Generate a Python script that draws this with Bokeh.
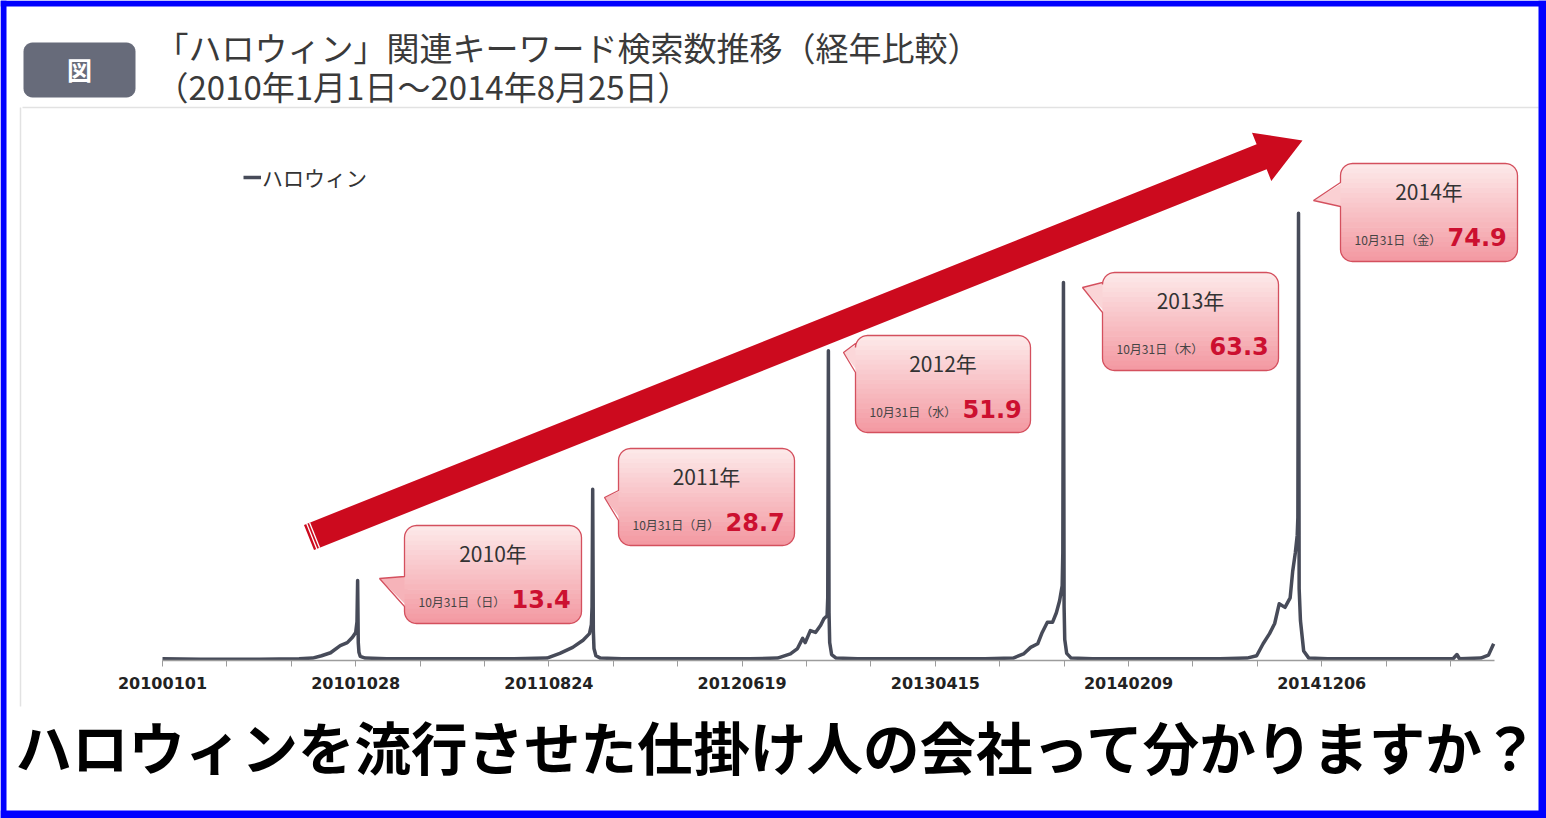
import numpy as np
import pandas as pd
from bokeh.plotting import figure
from bokeh.models import Range1d, FixedTicker, Legend, LegendItem, DatetimeTickFormatter
from bokeh.embed import file_html
from bokeh.resources import INLINE
from bokeh.core.properties import value

# ---------------- data ----------------
series_name = "ハロウィン"
title_line1 = "「ハロウィン」関連キーワード検索数推移（経年比較）"
title_line2 = "（2010年1月1日～2014年8月25日）"
caption = "ハロウィンを流行させた仕掛け人の会社って分かりますか？"

dates_2010 = ["2010-01-01", "2010-03-01", "2010-06-01", "2010-08-01", "2010-08-22", "2010-09-05",
              "2010-09-19", "2010-10-04", "2010-10-15", "2010-10-23", "2010-10-28", "2010-10-30",
              "2010-10-31", "2010-11-01", "2010-11-02", "2010-11-04", "2010-11-12", "2010-12-15"]
values_2010 = [0.3, 0.2, 0.2, 0.3, 0.4, 0.8, 1.3, 2.5, 3.0, 3.9, 4.7, 6.5, 13.4, 3.0, 1.4, 0.7, 0.4, 0.3]

dates_2011 = ["2011-01-15", "2011-04-01", "2011-07-01", "2011-08-21", "2011-09-10", "2011-09-30",
              "2011-10-16", "2011-10-26", "2011-10-29", "2011-10-30", "2011-10-31", "2011-11-01",
              "2011-11-02", "2011-11-05", "2011-11-12", "2011-12-15"]
values_2011 = [0.3, 0.3, 0.3, 0.4, 1.2, 2.2, 3.4, 4.5, 6.0, 9.0, 28.7, 5.0, 2.0, 0.8, 0.4, 0.3]

dates_2012 = ["2012-01-15", "2012-04-01", "2012-07-01", "2012-08-13", "2012-09-02", "2012-09-13",
              "2012-09-21", "2012-09-25", "2012-10-03", "2012-10-11", "2012-10-19", "2012-10-24",
              "2012-10-29", "2012-10-30", "2012-10-31", "2012-11-01", "2012-11-02", "2012-11-05",
              "2012-11-12", "2012-12-15"]
values_2012 = [0.3, 0.3, 0.3, 0.4, 1.1, 2.0, 3.7, 3.0, 5.0, 4.7, 5.9, 7.0, 7.5, 10.5, 51.9, 8.0,
               3.0, 1.0, 0.4, 0.3]

dates_2013 = ["2013-01-15", "2013-04-01", "2013-07-01", "2013-08-14", "2013-08-30", "2013-09-10",
              "2013-09-21", "2013-09-28", "2013-10-06", "2013-10-14", "2013-10-20", "2013-10-25",
              "2013-10-29", "2013-10-30", "2013-10-31", "2013-11-01", "2013-11-02", "2013-11-05",
              "2013-11-12", "2013-12-15"]
values_2013 = [0.3, 0.3, 0.3, 0.4, 1.1, 2.2, 2.8, 4.7, 6.4, 6.4, 8.0, 10.0, 12.5, 18.0, 63.3, 9.0,
               3.5, 1.2, 0.4, 0.3]

dates_2014 = ["2014-01-15", "2014-04-01", "2014-07-01", "2014-08-12", "2014-08-27", "2014-09-06",
              "2014-09-16", "2014-09-24", "2014-10-01", "2014-10-10", "2014-10-18", "2014-10-22",
              "2014-10-26", "2014-10-29", "2014-10-30", "2014-10-31", "2014-11-01", "2014-11-03",
              "2014-11-08", "2014-11-16", "2014-12-15"]
values_2014 = [0.3, 0.3, 0.3, 0.4, 0.8, 2.8, 4.5, 6.2, 9.5, 8.9, 10.5, 15.0, 18.0, 21.0, 24.0, 74.9,
               12.0, 6.7, 1.6, 0.4, 0.3]

dates_2015 = ["2015-02-01", "2015-04-01", "2015-06-28", "2015-07-04", "2015-07-08", "2015-08-10",
              "2015-08-22", "2015-08-30"]
values_2015 = [0.3, 0.3, 0.3, 1.0, 0.3, 0.4, 0.9, 2.8]

tick_labels = ["20100101", "20101028", "20110824", "20120619", "20130415", "20140209", "20141206"]

callout_years = ["2010年", "2011年", "2012年", "2013年", "2014年"]
callout_weekdays = ["日", "月", "水", "木", "金"]
peak_values = [13.4, 28.7, 51.9, 63.3, 74.9]

# ---------------- helpers (layout) ----------------
def ms(d):
    return (pd.Timestamp(d) - pd.Timestamp("1970-01-01")).total_seconds() * 1000.0

DAY_MS = 86400000.0
X0_PX, PX_PER_DAY = 162.0, 0.644
Y0_PX, PX_PER_UNIT = 660.0, 5.97
W, H = 1546, 818
ORIGIN = ms(tick_labels[0])

def fx(px):
    return ORIGIN + (px - X0_PX) / PX_PER_DAY * DAY_MS

def fy(py):
    return (Y0_PX - py) / PX_PER_UNIT

JP = value("Noto Sans CJK JP")

p = figure(width=W, height=H, x_axis_type="datetime", y_axis_location=None,
           x_range=Range1d(fx(0), fx(W)), y_range=Range1d(fy(H), fy(0)),
           output_backend="svg", toolbar_location=None, min_border=0)
p.outline_line_color = None
p.grid.visible = False
p.background_fill_color = "white"
p.border_fill_color = "white"

# ---------------- frame decorations ----------------
p.segment(x0=[fx(22), fx(20)], y0=[fy(107), fy(107)], x1=[fx(1538), fx(20)], y1=[fy(107), fy(706)],
          line_color="#e2e2e2", line_width=1.5)

def rounded_rect(x0, y0, x1, y1, r, n=8):
    pts = []
    corners = [(x1 - r, y0 + r, -90, 0), (x1 - r, y1 - r, 0, 90),
               (x0 + r, y1 - r, 90, 180), (x0 + r, y0 + r, 180, 270)]
    for cx, cy, a0, a1 in corners:
        for a in np.linspace(np.radians(a0), np.radians(a1), n):
            pts.append((cx + r * np.cos(a), cy + r * np.sin(a)))
    return pts

badge = rounded_rect(23, 42, 135, 97, 9)
p.patch([fx(a) for a, b in badge], [fy(b) for a, b in badge], fill_color="#676b7a", line_color=None)
p.text(x=[fx(79)], y=[fy(68)], text=["図"], text_font=JP, text_font_size="25px", text_font_style="bold",
       text_color="white", text_align="center", text_baseline="middle")

p.text(x=[fx(155), fx(155)], y=[fy(46), fy(85)], text=[title_line1, title_line2], text_font=JP,
       text_font_size="33px", text_color="#3a3a3a", text_align="left", text_baseline="middle")

# ---------------- red arrow ----------------
T = np.array([308.5, 537.0])
P = np.array([1302.0, 140.0])
u = (P - T) / np.linalg.norm(P - T)
n = np.array([-u[1], u[0]])
if n[1] < 0:
    n = -n
sw, hl, hw = 13.5, 44.0, 26.0
Hb = P - u * hl
arrow = [T - n * sw, Hb - n * sw, Hb - n * hw, P, Hb + n * hw, Hb + n * sw, T + n * sw]
p.patch([fx(a[0]) for a in arrow], [fy(a[1]) for a in arrow], fill_color="#cc0a1e", line_color=None)
stripes_x0, stripes_y0, stripes_x1, stripes_y1 = [], [], [], []
for off in (3.0, 6.0):
    a = T + u * off - n * sw
    b = T + u * off + n * sw
    stripes_x0.append(fx(a[0])); stripes_y0.append(fy(a[1]))
    stripes_x1.append(fx(b[0])); stripes_y1.append(fy(b[1]))
p.segment(x0=stripes_x0, y0=stripes_y0, x1=stripes_x1, y1=stripes_y1, line_color="white", line_width=1.3)

# ---------------- the series ----------------
all_dates = dates_2010 + dates_2011 + dates_2012 + dates_2013 + dates_2014 + dates_2015
all_values = values_2010 + values_2011 + values_2012 + values_2013 + values_2014 + values_2015
line = p.line(x=pd.to_datetime(all_dates), y=all_values, line_color="#474b59", line_width=3.5,
              line_join="round")

ax = p.xaxis[0]
ax.fixed_location = 0
tick_ms = [ms(pd.Timestamp(t)) for t in tick_labels]
minor_ms = [ORIGIN + k * 100 * DAY_MS for k in range(1, 21) if k % 3 != 0]
ax.ticker = FixedTicker(ticks=tick_ms, minor_ticks=minor_ms)
fmt = "%Y%m%d"
ax.formatter = DatetimeTickFormatter(microseconds=fmt, milliseconds=fmt, seconds=fmt, minsec=fmt,
                                     minutes=fmt, hourmin=fmt, hours=fmt, days=fmt, months=fmt,
                                     years=fmt)
ax.bounds = (fx(162), fx(1494))
ax.axis_line_color = "#9c9c9c"
ax.axis_line_width = 1.5
ax.major_tick_line_color = "#9c9c9c"
ax.minor_tick_line_color = "#9c9c9c"
ax.major_tick_in = 0
ax.major_tick_out = 6
ax.minor_tick_in = 0
ax.minor_tick_out = 6
ax.major_label_text_font = "DejaVu Sans"
ax.major_label_text_font_style = "bold"
ax.major_label_text_font_size = "16px"
ax.major_label_text_color = "#222222"
ax.major_label_standoff = 10

legend = Legend(items=[LegendItem(label=series_name, renderers=[line])], location=(243, 626),
                padding=0, margin=0, spacing=0, glyph_width=18, glyph_height=20, label_standoff=1,
                label_text_font="Noto Sans CJK JP", label_text_font_size="21px",
                label_text_color="#333333", border_line_color=None, background_fill_alpha=0)
p.add_layout(legend)

# ---------------- callouts ----------------
boxes = [(404, 525, 581, 623), (618, 448, 794, 545), (855, 335, 1030, 432),
         (1102, 272, 1278, 370), (1340, 163, 1517, 261)]
tips = [(379, 578), (604, 497), (843, 352), (1082, 287), (1313, 200)]
wedges = [(576, 606), (490, 520), (343, 372), (282, 312), (182, 206)]

top_rgb = np.array([253, 234, 234])
bot_rgb = np.array([243, 152, 161])

def col(t):
    c = top_rgb + (bot_rgb - top_rgb) * t
    return "#%02x%02x%02x" % tuple(int(round(v)) for v in c)

def edge_x(y, x0, y0, x1, y1, r):
    if y < y0 + r:
        d = r - np.sqrt(max(r * r - (y0 + r - y) ** 2, 0))
    elif y > y1 - r:
        d = r - np.sqrt(max(r * r - (y - (y1 - r)) ** 2, 0))
    else:
        d = 0.0
    return x0 + d, x1 - d

R = 12
for (x0, y0, x1, y1), (tx, ty), (w0, w1), yr, wd, pv in zip(boxes, tips, wedges, callout_years,
                                                             callout_weekdays, peak_values):
    hgt = y1 - y0
    tm = ((w0 + w1) / 2 - y0) / hgt
    p.patch([fx(x0 + 3), fx(tx), fx(x0 + 3)], [fy(w0), fy(ty), fy(w1)], fill_color=col(tm), line_color=None)
    xs, ys, cs = [], [], []
    N = 20
    edges = np.linspace(y0, y1, N + 1)
    for i in range(N):
        ya, yb = edges[i], min(edges[i + 1] + 0.6, y1)
        samples = np.linspace(ya, yb, 5)
        left = [edge_x(y, x0, y0, x1, y1, R)[0] for y in samples]
        right = [edge_x(y, x0, y0, x1, y1, R)[1] for y in samples]
        px_ = left + right[::-1]
        py_ = list(samples) + list(samples[::-1])
        xs.append([fx(v) for v in px_])
        ys.append([fy(v) for v in py_])
        cs.append(col((i + 0.5) / N))
    p.patches(xs, ys, fill_color=cs, line_color=None)
    rr = rounded_rect(x0, y0, x1, y1, R)
    n_per = 8
    outline = rr[:3 * n_per] + [(x0, w1), (tx, ty), (x0, w0)] + rr[3 * n_per:]
    outline.append(outline[0])
    p.line([fx(a) for a, b in outline], [fy(b) for a, b in outline], line_color="#d4505e", line_width=1.3)
    p.text(x=[fx((x0 + x1) / 2)], y=[fy(y0 + 27)], text=[yr], text_font=JP, text_font_size="21px",
           text_color="#333333", text_align="center", text_baseline="middle")
    p.text(x=[fx(x0 + 14)], y=[fy(y0 + 76)], text=["10月31日（%s）" % wd], text_font=JP,
           text_font_size="12px", text_color="#444444", text_align="left", text_baseline="middle")
    p.text(x=[fx(x0 + 107)], y=[fy(y0 + 73)], text=["%.1f" % pv], text_font=value("DejaVu Sans"),
           text_font_size="24px", text_font_style="bold", text_color="#cc1030", text_align="left",
           text_baseline="middle")

# ---------------- caption ----------------
p.text(x=[fx(15)], y=[fy(744)], text=[caption], text_font=JP, text_font_size="56.5px",
       text_font_style="bold", text_color="#000000", text_align="left", text_baseline="middle")

# ---------------- blue frame ----------------
B = 6
p.quad(left=[fx(0), fx(0), fx(0), fx(W - B - 2)], right=[fx(W), fx(W), fx(B), fx(W)],
       top=[fy(0), fy(H - B - 2), fy(0), fy(0)], bottom=[fy(B), fy(H), fy(H), fy(H)],
       fill_color="#0000ff", line_color=None)

open("out.html", "w").write(file_html(p, INLINE))
